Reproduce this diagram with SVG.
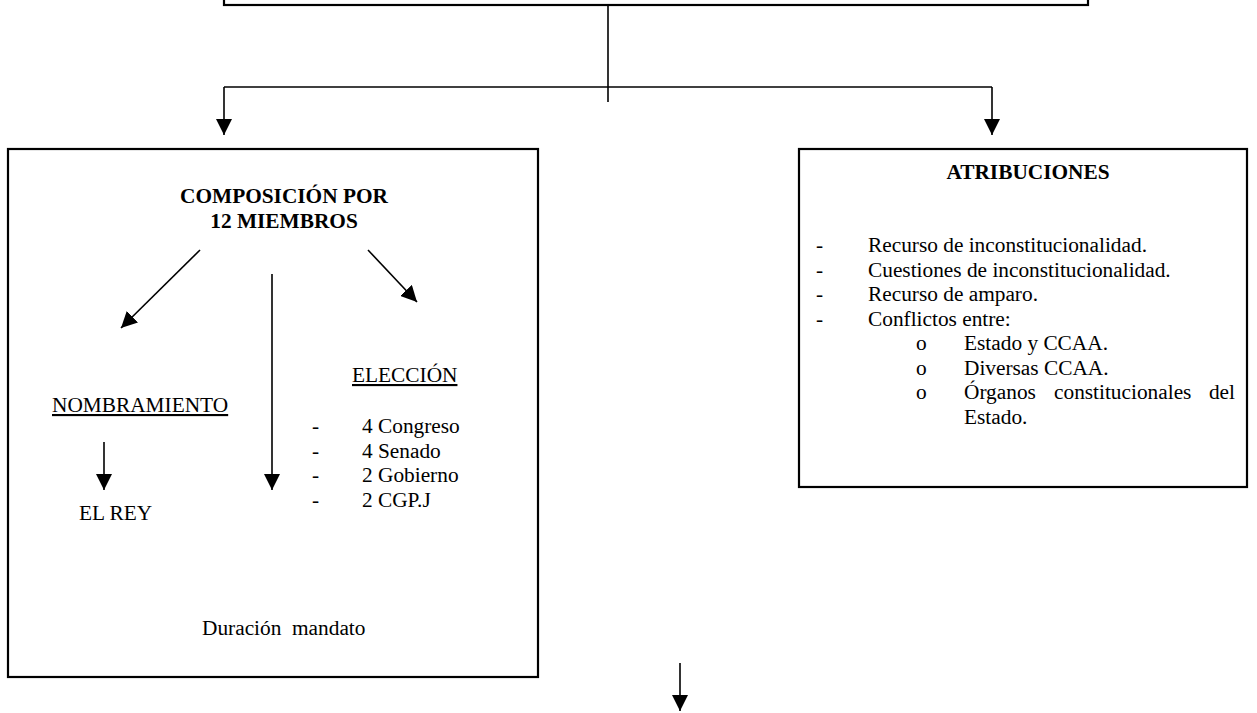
<svg xmlns="http://www.w3.org/2000/svg" width="1257" height="713" viewBox="0 0 1257 713">
<defs>
<marker id="ah" markerUnits="userSpaceOnUse" markerWidth="16" markerHeight="16" refX="16" refY="8" orient="auto">
<path d="M0,0 L16,8 L0,16 Z" fill="#000"/>
</marker>
<style>
.box{fill:#fff;stroke:#000;stroke-width:2.2}
.ln{fill:none;stroke:#000;stroke-width:1.6}
.ar{fill:none;stroke:#000;stroke-width:1.6;marker-end:url(#ah)}
text{font-family:"Liberation Serif","Times New Roman",serif;font-size:21.33px;fill:#000}
.b{font-weight:bold}
.c{text-anchor:middle}
.u{text-decoration:underline}
</style>
</defs>
<rect width="1257" height="713" fill="#fff"/>
<g id="top-box"><rect class="box" x="224" y="-20" width="864" height="25"/></g>
<g id="left-box">
<rect class="box" x="8" y="149" width="530" height="528"/>
<text class="b c" x="284" y="203">COMPOSICIÓN POR</text>
<text class="b c" x="284" y="228">12 MIEMBROS</text>
<text class="u" x="352" y="382">ELECCIÓN</text>
<text class="u" x="52" y="412">NOMBRAMIENTO</text>
<text x="312" y="433">-</text><text x="362" y="433">4 Congreso</text>
<text x="312" y="457.5">-</text><text x="362" y="457.5">4 Senado</text>
<text x="312" y="482">-</text><text x="362" y="482">2 Gobierno</text>
<text x="312" y="506.5">-</text><text x="362" y="506.5">2 CGP.J</text>
<text x="79" y="520">EL REY</text>
<text x="202" y="635" style="white-space:pre">Duración  mandato</text>
</g>
<g id="right-box">
<rect class="box" x="799" y="149" width="448" height="338"/>
<text class="b c" x="1028" y="179">ATRIBUCIONES</text>
<text x="816" y="252">-</text><text x="868" y="252">Recurso de inconstitucionalidad.</text>
<text x="816" y="276.5">-</text><text x="868" y="276.5">Cuestiones de inconstitucionalidad.</text>
<text x="816" y="301">-</text><text x="868" y="301">Recurso de amparo.</text>
<text x="816" y="325.5">-</text><text x="868" y="325.5">Conflictos entre:</text>
<text x="916" y="350">o</text><text x="964" y="350">Estado y CCAA.</text>
<text x="916" y="374.5">o</text><text x="964" y="374.5">Diversas CCAA.</text>
<text x="916" y="399">o</text><text x="964" y="399">Órganos</text><text x="1054" y="399">constitucionales</text><text x="1235" y="399" text-anchor="end">del</text>
<text x="964" y="423.5">Estado.</text>
</g>
<g id="connectors">
<path class="ln" d="M608,5 V102"/>
<path class="ln" d="M224,87 H992"/>
<path class="ar" d="M224,87 V135"/>
<path class="ar" d="M992,87 V135"/>
<path class="ar" d="M200,250 L121,328"/>
<path class="ar" d="M368,250 L417,302"/>
<path class="ar" d="M272,274 V490"/>
<path class="ar" d="M104,442 V490"/>
<path class="ar" d="M680,663 V711"/>
</g>
</svg>
